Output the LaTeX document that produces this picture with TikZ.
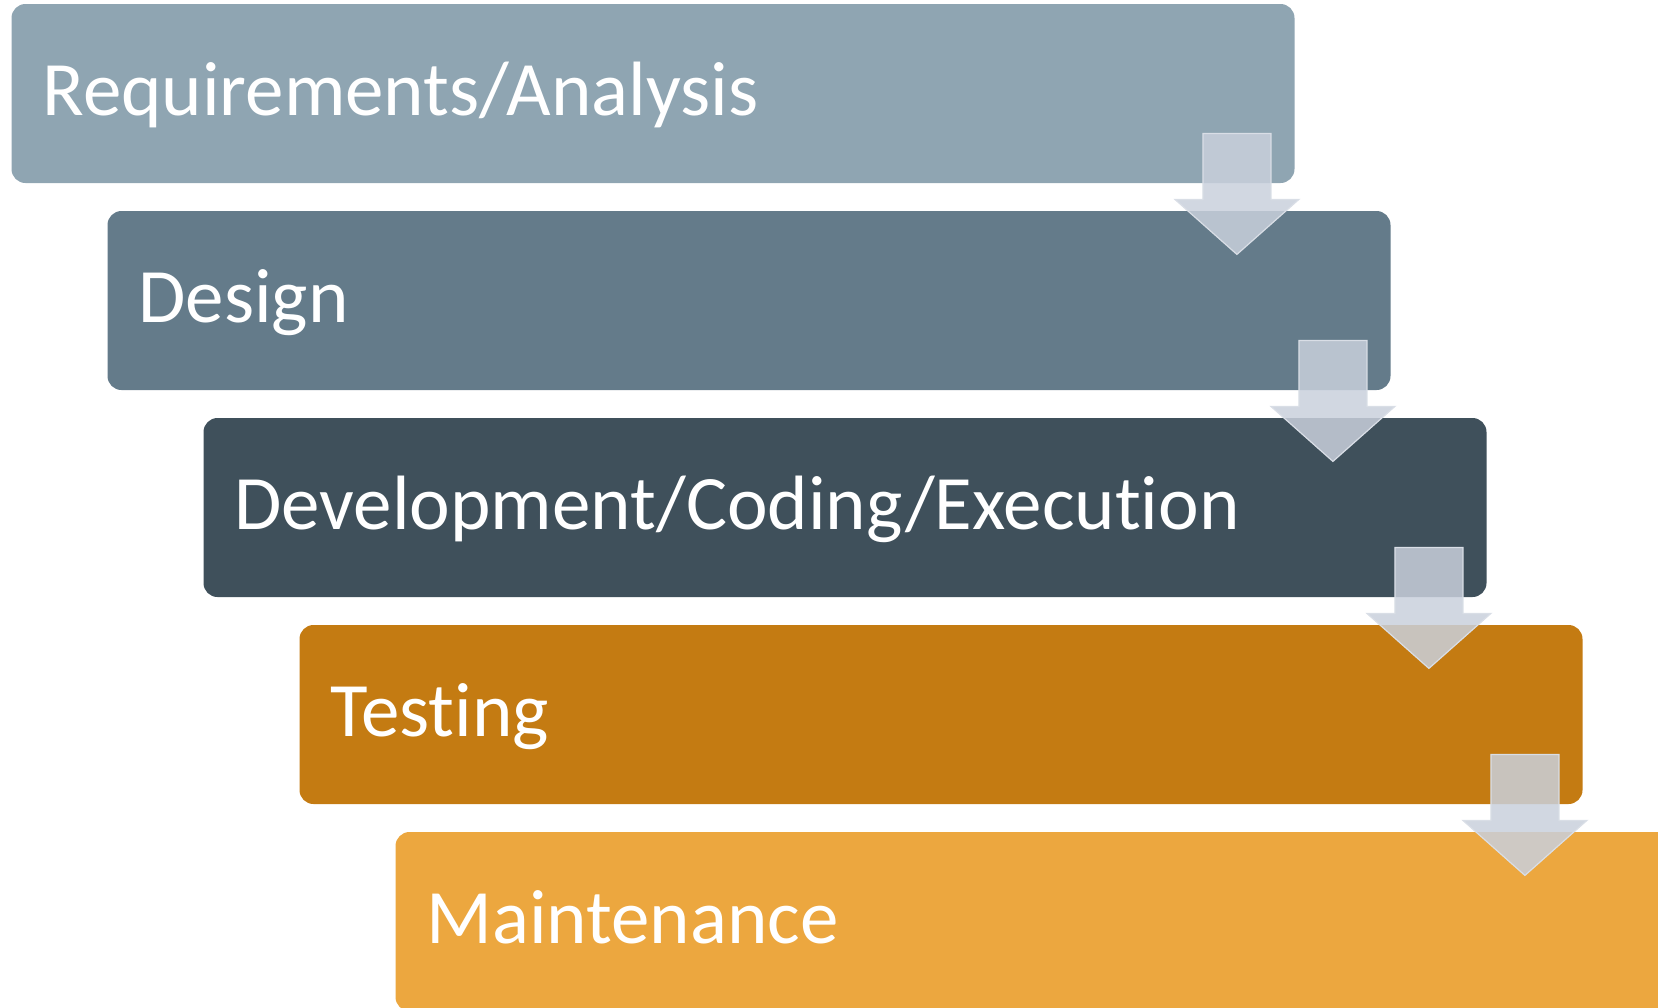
\documentclass[tikz,border=0pt]{standalone}
\usepackage{fontspec}
\setmainfont{Carlito}[Ligatures=NoCommon]
\definecolor{reqgray}{HTML}{8FA5B2}
\definecolor{desgray}{HTML}{647B8A}
\definecolor{devgray}{HTML}{3F505B}
\definecolor{testorange}{HTML}{C47B12}
\definecolor{mainorange}{HTML}{ECA73F}
\definecolor{flowgray}{HTML}{C9D0DC}
\tikzset{
  stage/.style={rounded corners=7pt, minimum width=641.5pt, minimum height=89.5pt, inner sep=0pt},
  stagetext/.style={text=white, font=\fontsize{38.5}{46}\selectfont, anchor=base west, inner sep=0pt},
  flow/.style={fill=flowgray, draw=flowgray!70!white, fill opacity=0.85, line width=0.6pt}
}

\begin{document}
\begin{tikzpicture}[x=0.5pt,y=-0.5pt]
  \clip (0,0) rectangle (1658,1007);
  % the five stages, each one step right and down
  \foreach \i/\id/\col/\txt in {0/req/reqgray/{Requirements/Analysis},
                                1/des/desgray/{Design},
                                2/dev/devgray/{Development/Coding/Execution},
                                3/test/testorange/{Testing},
                                4/main/mainorange/{Maintenance}}{
    \node[stage, fill=\col] (\id) at ({653+96*\i},{93.5+207*\i}) {};
    \node[stagetext] (\id-label) at ([shift={(31,-68)}]\id.south west) {\txt};
  }
  % block arrows between the stages
  \foreach \a/\b in {req/des, des/dev, dev/test, test/main}{
    \coordinate (\a-tip) at ([shift={(-58,71)}]\a.south east);
    \draw[flow] ([shift={(-34,-121)}]\a-tip) -- ++(68,0) -- ++(0,66) -- ++(28,0)
      -- (\a-tip) -- ++(-62,-55) -- ++(28,0) -- cycle;
  }
\end{tikzpicture}
\end{document}
